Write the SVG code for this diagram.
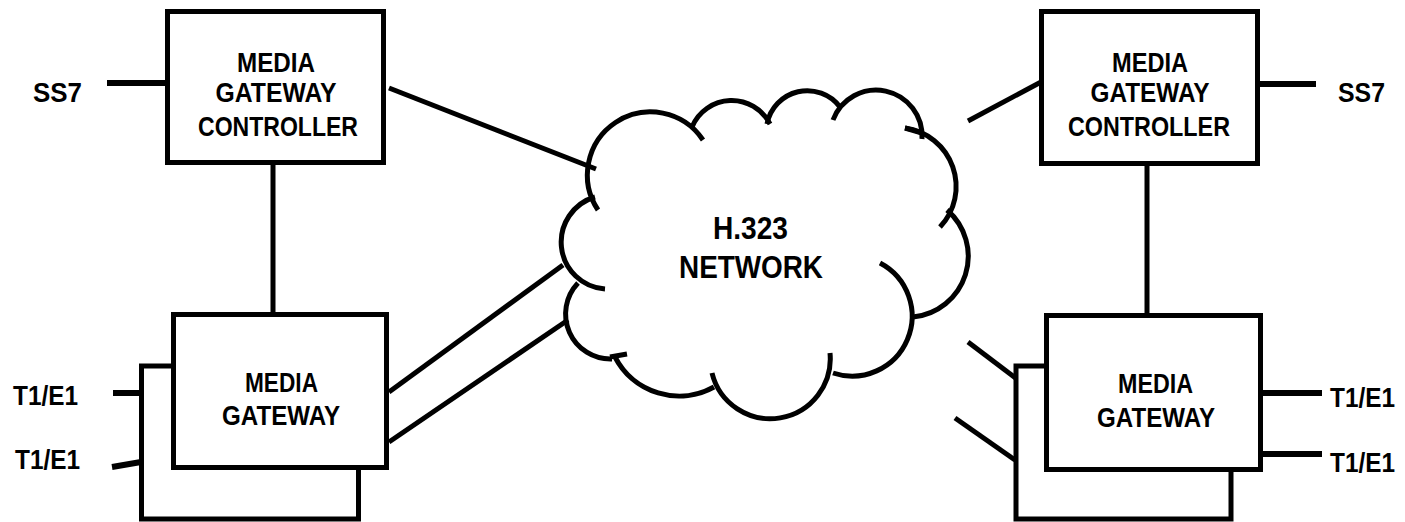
<svg xmlns="http://www.w3.org/2000/svg" width="1405" height="522" viewBox="0 0 1405 522">
<style>
.box{fill:#fff;stroke:#000;stroke-width:5}
.ln{stroke:#000;stroke-width:5;fill:none}
.stub{stroke:#000;stroke-width:6;fill:none}
.cl{stroke:#000;stroke-width:5;fill:none;stroke-linecap:butt}
text{font-family:"Liberation Sans",Arial,sans-serif;font-weight:bold;fill:#000}
.t{font-size:27px;text-anchor:middle}
.lbl{font-size:27px}
.big{font-size:31px;text-anchor:middle}
</style>
<rect width="1405" height="522" fill="#fff"/>
<g id="connectors">
<line class="stub" x1="107" y1="83" x2="167" y2="83"/>
<line class="ln" x1="273" y1="163" x2="273" y2="314"/>
<line class="ln" x1="389" y1="88" x2="596" y2="169"/>
<line class="stub" x1="113" y1="393" x2="173" y2="393"/>
<line class="stub" x1="112" y1="467" x2="141" y2="462"/>
<line class="ln" x1="389" y1="392" x2="563" y2="265"/>
<line class="ln" x1="389" y1="442" x2="568" y2="320"/>
<line class="stub" x1="1260" y1="84" x2="1316" y2="84"/>
<line class="ln" x1="1147" y1="163" x2="1147" y2="315"/>
<line class="ln" x1="968" y1="121" x2="1041" y2="82"/>
<line class="stub" x1="1260" y1="393" x2="1322" y2="393"/>
<line class="stub" x1="1260" y1="454" x2="1322" y2="454"/>
<line class="ln" x1="968" y1="342" x2="1046" y2="401"/>
<line class="ln" x1="955" y1="418" x2="1015" y2="460"/>
</g>
<g id="cloud">
<path class="cl" d="M598 210 A63 63 0 0 1 703 140"/>
<path class="cl" d="M692 127 A43 43 0 0 1 770 124"/>
<path class="cl" d="M767 124 A41 41 0 0 1 840 107"/>
<path class="cl" d="M833 120 A46 46 0 0 1 922 139"/>
<line class="cl" x1="905" y1="128" x2="922" y2="133"/>
<path class="cl" d="M905 128 A59 59 0 0 1 940 227"/>
<path class="cl" d="M947 210 A61 61 0 0 1 913 317"/>
<path class="cl" d="M880 263 A60 60 0 0 1 833 373"/>
<path class="cl" d="M830 353 A60 60 0 0 1 712 373"/>
<path class="cl" d="M714 387 A72 72 0 0 1 615 357"/>
<line class="cl" x1="610" y1="357" x2="627" y2="354"/>
<path class="cl" d="M612 359 A45 45 0 0 1 578 283"/>
<path class="cl" d="M605 289 A47 47 0 0 1 595 197"/>
<text class="big" x="750.5" y="239" textLength="75" lengthAdjust="spacingAndGlyphs">H.323</text>
<text class="big" x="751" y="278" textLength="144" lengthAdjust="spacingAndGlyphs">NETWORK</text>
</g>
<g id="mgc-left">
<rect class="box" x="167.5" y="11.5" width="216" height="151"/>
<text class="t" x="276" y="72" textLength="78" lengthAdjust="spacingAndGlyphs">MEDIA</text>
<text class="t" x="276" y="102" textLength="121" lengthAdjust="spacingAndGlyphs">GATEWAY</text>
<text class="t" x="278" y="135.5" textLength="160" lengthAdjust="spacingAndGlyphs">CONTROLLER</text>
</g>
<g id="ss7-left"><text class="lbl" x="33" y="102" textLength="49" lengthAdjust="spacingAndGlyphs">SS7</text></g>
<g id="mg-left">
<rect class="box" x="141.5" y="366" width="217" height="153"/>
<rect class="box" x="173.5" y="314.5" width="213" height="153"/>
<text class="t" x="281.5" y="392" textLength="73" lengthAdjust="spacingAndGlyphs">MEDIA</text>
<text class="t" x="281" y="425" textLength="118" lengthAdjust="spacingAndGlyphs">GATEWAY</text>
</g>
<g id="t1e1-left-1"><text class="lbl" x="13" y="405" textLength="65" lengthAdjust="spacingAndGlyphs">T1/E1</text></g>
<g id="t1e1-left-2"><text class="lbl" x="15" y="469" textLength="65" lengthAdjust="spacingAndGlyphs">T1/E1</text></g>
<g id="mgc-right">
<rect class="box" x="1041.5" y="11.5" width="216" height="152"/>
<text class="t" x="1150" y="72" textLength="76" lengthAdjust="spacingAndGlyphs">MEDIA</text>
<text class="t" x="1150" y="102" textLength="119" lengthAdjust="spacingAndGlyphs">GATEWAY</text>
<text class="t" x="1149" y="135.5" textLength="162" lengthAdjust="spacingAndGlyphs">CONTROLLER</text>
</g>
<g id="ss7-right"><text class="lbl" x="1338" y="102" textLength="47" lengthAdjust="spacingAndGlyphs">SS7</text></g>
<g id="mg-right">
<rect class="box" x="1016" y="366" width="215" height="153"/>
<rect class="box" x="1046.5" y="315.5" width="214" height="154"/>
<text class="t" x="1155.5" y="393" textLength="75" lengthAdjust="spacingAndGlyphs">MEDIA</text>
<text class="t" x="1156" y="427" textLength="118" lengthAdjust="spacingAndGlyphs">GATEWAY</text>
</g>
<g id="t1e1-right-1"><text class="lbl" x="1330" y="407" textLength="65" lengthAdjust="spacingAndGlyphs">T1/E1</text></g>
<g id="t1e1-right-2"><text class="lbl" x="1330" y="472" textLength="65" lengthAdjust="spacingAndGlyphs">T1/E1</text></g>
</svg>
